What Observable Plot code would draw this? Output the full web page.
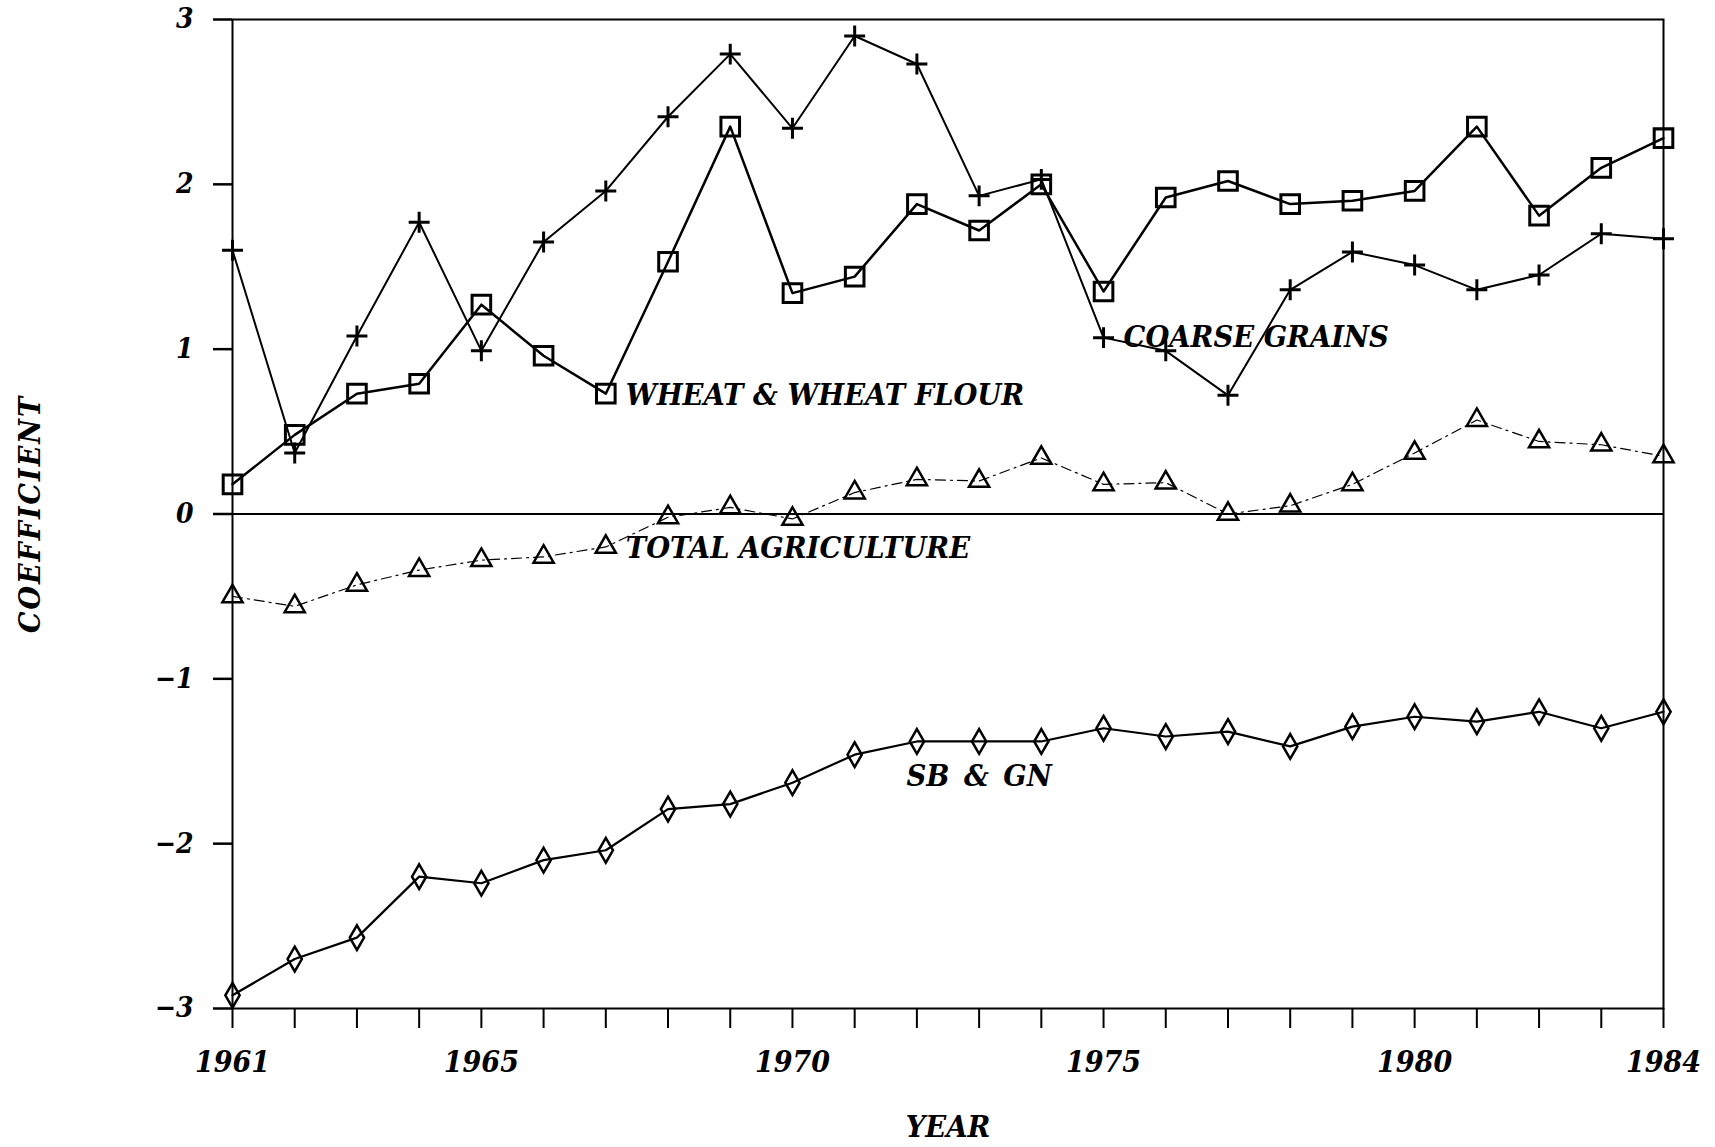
<!DOCTYPE html>
<html>
<head>
<meta charset="utf-8">
<script src="https://cdn.jsdelivr.net/npm/d3@7"></script>
<script src="https://cdn.jsdelivr.net/npm/@observablehq/plot@0.6"></script>
<style>
  html, body { margin: 0; padding: 0; background: #fff; }
  #chart svg { display: block; }
</style>
</head>
<body>
<div id="chart"></div>
<script>
// ---- data ----
const years = [1961,1962,1963,1964,1965,1966,1967,1968,1969,1970,1971,1972,1973,1974,1975,1976,1977,1978,1979,1980,1981,1982,1983,1984];
const coarseGrains     = [1.60,0.37,1.08,1.77,0.99,1.65,1.96,2.41,2.79,2.34,2.90,2.73,1.93,2.03,1.07,0.99,0.72,1.36,1.59,1.51,1.36,1.45,1.70,1.67];
const wheatFlour       = [0.18,0.48,0.73,0.79,1.27,0.96,0.73,1.53,2.35,1.34,1.44,1.88,1.72,2.00,1.35,1.92,2.02,1.88,1.90,1.96,2.35,1.81,2.10,2.28];
const totalAgriculture = [-0.50,-0.56,-0.43,-0.34,-0.28,-0.26,-0.20,-0.02,0.04,-0.03,0.13,0.21,0.20,0.34,0.18,0.19,0.00,0.05,0.18,0.37,0.57,0.44,0.42,0.35];
const sbGn             = [-2.92,-2.70,-2.57,-2.20,-2.24,-2.10,-2.04,-1.79,-1.76,-1.63,-1.46,-1.38,-1.38,-1.38,-1.30,-1.35,-1.32,-1.41,-1.29,-1.23,-1.26,-1.20,-1.30,-1.20];

const labeledYears = [1961, 1965, 1970, 1975, 1980, 1984];
const yTicks = [-3, -2, -1, 0, 1, 2, 3];

const seriesNames  = ["COARSE GRAINS", "WHEAT & WHEAT FLOUR", "TOTAL AGRICULTURE", "SB & GN"];
const labelYears   = [1975, 1967, 1967, 1973];
const labelValues  = [1.07, 0.72, -0.21, -1.59];

// ---- tables built from the arrays ----
const table = (name, values) => years.map((year, i) => ({year, value: values[i], series: name}));
const cg = table(seriesNames[0], coarseGrains);
const wf = table(seriesNames[1], wheatFlour);
const ta = table(seriesNames[2], totalAgriculture);
const sg = table(seriesNames[3], sbGn);
const labels = seriesNames.map((name, i) => ({name, year: labelYears[i], value: labelValues[i]}));

const FONT = "'DejaVu Serif Condensed', 'DejaVu Serif', serif";
const fmtY = d => d < 0 ? "\u2212" + Math.abs(d) : String(d);

const chart = Plot.plot({
  width: 1715,
  height: 1147,
  marginLeft: 232,
  marginRight: 52,
  marginTop: 19,
  marginBottom: 139,
  style: {fontFamily: FONT, fontStyle: "italic", fontWeight: "bold", fontSize: "30px", fontStretch: "condensed", color: "black", background: "white"},
  x: {domain: [1961, 1984]},
  y: {domain: [-3, 3]},
  marks: [
    Plot.frame({stroke: "black", strokeWidth: 2}),
    Plot.ruleY([0], {stroke: "black", strokeWidth: 2}),
    Plot.axisY({ticks: yTicks, tickSize: 19, tickPadding: 20, strokeWidth: 2.5, label: null, fontSize: 28, tickFormat: fmtY}),
    Plot.axisX({ticks: years, tickSize: 20, tickPadding: 22, strokeWidth: 2, label: null, fontSize: 30,
      tickFormat: d => labeledYears.includes(d) ? String(d) : ""}),
    // lines
    Plot.lineY(cg, {x: "year", y: "value", stroke: "black", strokeWidth: 2}),
    Plot.lineY(wf, {x: "year", y: "value", stroke: "black", strokeWidth: 2.5}),
    Plot.lineY(ta, {x: "year", y: "value", stroke: "black", strokeWidth: 1.2, strokeDasharray: "10,5,2,5"}),
    Plot.lineY(sg, {x: "year", y: "value", stroke: "black", strokeWidth: 2.2}),
    // markers
    Plot.dot(cg, {x: "year", y: "value", symbol: "plus", r: 6.8, stroke: "black", strokeWidth: 3}),
    Plot.dot(wf, {x: "year", y: "value", symbol: "square", r: 10.5, stroke: "black", fill: "none", strokeWidth: 3}),
    Plot.dot(ta, {x: "year", y: "value", symbol: "triangle", r: 7.5, stroke: "black", fill: "none", strokeWidth: 2.5}),
    Plot.dot(sg, {x: "year", y: "value", symbol: "diamond", r: 7.5, stroke: "black", fill: "none", strokeWidth: 2.5}),
    // series labels
    Plot.text(labels.filter(d => d.name !== "SB & GN"), {x: "year", y: "value", text: "name", textAnchor: "start", dx: 20, fontSize: 30.5}),
    Plot.text(labels.filter(d => d.name === "SB & GN"), {x: "year", y: "value", text: "name", textAnchor: "middle", fontSize: 30.5}),
    // axis titles
    Plot.text(["COEFFICIENT"], {frameAnchor: "left", textAnchor: "middle", dx: -202, rotate: -90, fontSize: 30}),
    Plot.text(["YEAR"], {frameAnchor: "bottom", lineAnchor: "middle", dy: 119, fontSize: 30.5})
  ]
});

document.getElementById("chart").appendChild(chart);
const svg = d3.select(chart);
svg.selectAll("text").filter(function() { return this.textContent === "COEFFICIENT"; }).style("letter-spacing", "2px");
svg.selectAll("text").filter(function() { return this.textContent === "SB & GN"; }).style("word-spacing", "5px");
</script>
</body>
</html>
